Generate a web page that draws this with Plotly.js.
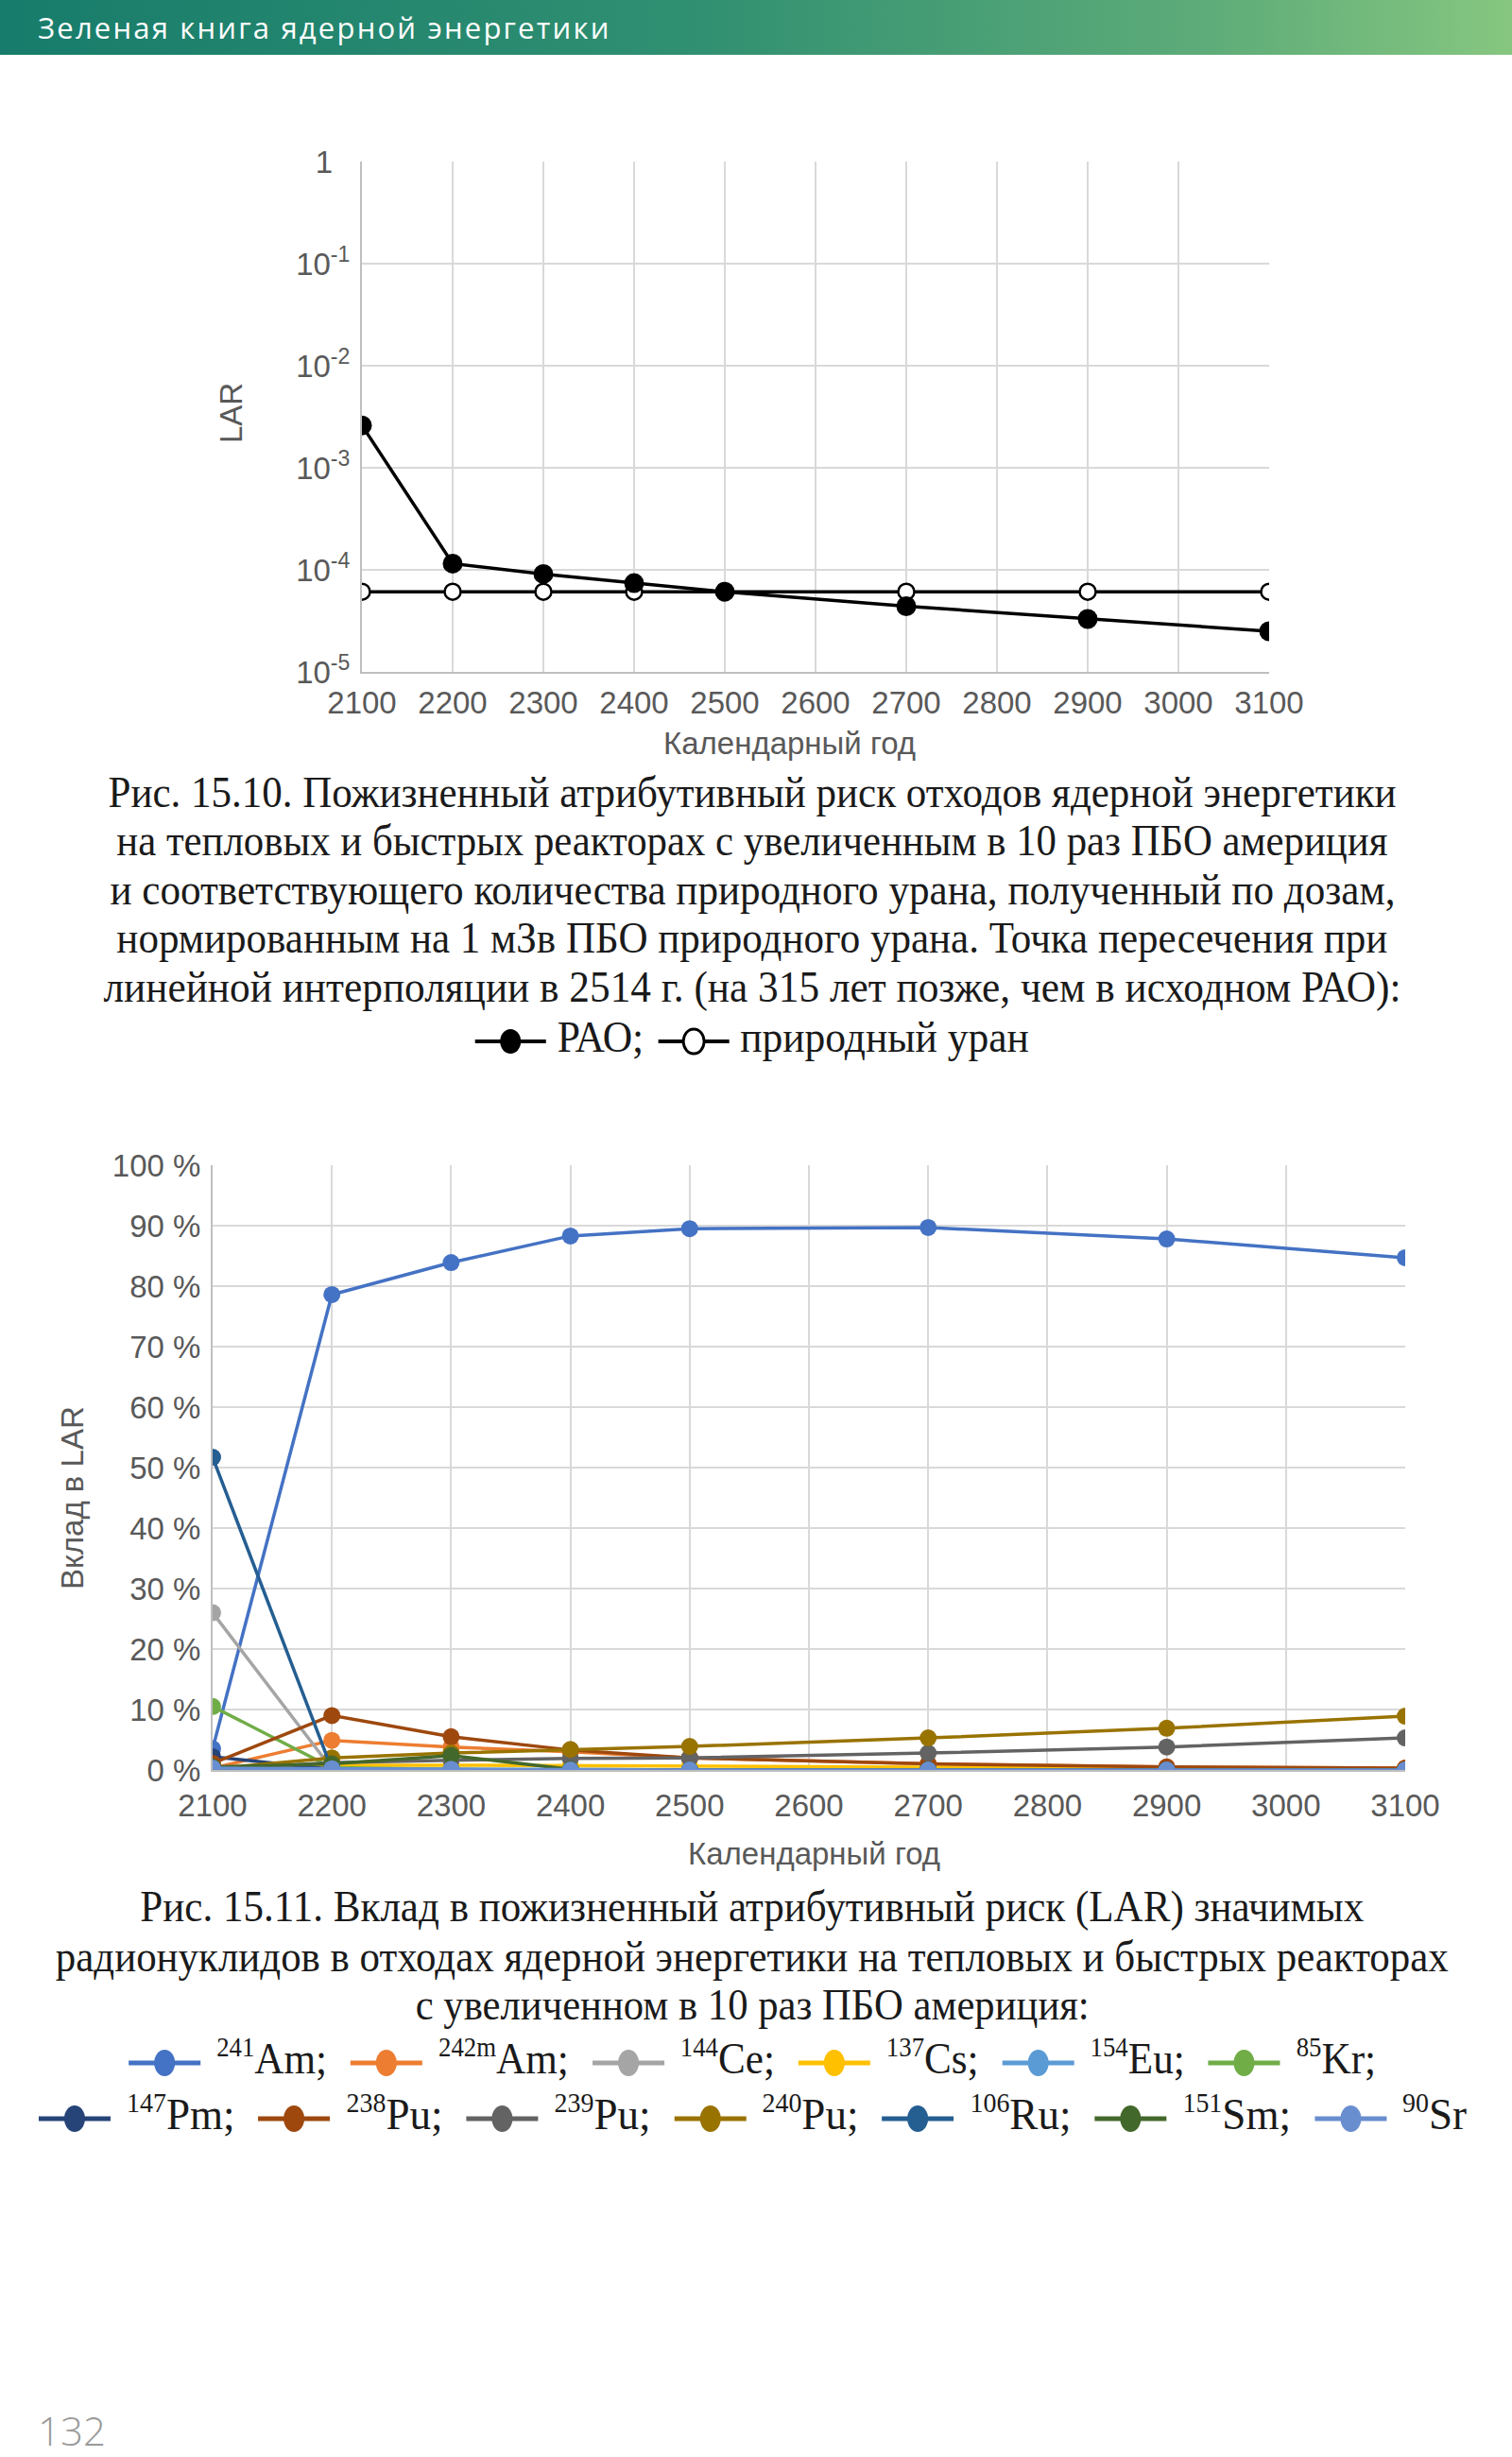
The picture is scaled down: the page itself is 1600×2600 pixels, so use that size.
<!DOCTYPE html>
<html><head><meta charset="utf-8">
<script src="https://cdn.plot.ly/plotly-3.0.1.min.js"></script>
<style>
html,body{margin:0;padding:0;background:#fff;}
#page{position:relative;width:1600px;height:2600px;overflow:hidden;background:#fff;}
#plot{position:absolute;left:0;top:0;width:1600px;height:2600px;z-index:1;}
#header{position:absolute;left:0;top:0;width:1600px;height:58px;z-index:2;
 background:linear-gradient(90deg,#177c6b 0%,#2f8f71 45%,#5eac79 80%,#86c680 100%);}
#header span{position:absolute;left:40px;top:8px;font-family:'Open Sans';font-size:31px;color:#fff;letter-spacing:2.2px;white-space:nowrap;}
.cap{position:absolute;left:0;width:1592px;text-align:center;font-family:'Liberation Serif';color:#1a1a1a;font-size:46px;line-height:52px;height:52px;white-space:nowrap;z-index:3;}
.cap > span{display:inline-block;transform-origin:50% 50%;white-space:nowrap;}
.cap sup{font-size:0.62em;line-height:0;vertical-align:0.62em;}
.cap svg{display:inline-block;vertical-align:middle;overflow:visible;}
.cap .lt{display:inline-block;}
#pnum{position:absolute;left:40px;top:2543px;font-family:'Open Sans';font-weight:300;font-size:42px;color:#9a9a9a;z-index:2;}
</style></head>
<body>
<div id="page">
<div id="plot"></div>
<div id="header"><span>Зеленая книга ядерной энергетики</span></div>
<div id="caps"></div>
<div id="pnum">132</div>
</div>
<script>
// ---- data: figure 15.10 ----
const years = [2100, 2200, 2300, 2400, 2500, 2700, 2900, 3100];
const xTicks = [2100, 2200, 2300, 2400, 2500, 2600, 2700, 2800, 2900, 3000, 3100];
const raoLAR = [2.6e-3, 1.15e-4, 9.1e-5, 7.4e-5, 6.1e-5, 4.4e-5, 3.3e-5, 2.5e-5];
const uranLAR = [6.1e-5, 6.1e-5, 6.1e-5, 6.1e-5, 6.1e-5, 6.1e-5, 6.1e-5, 6.1e-5];
const logTickVals = [1, 1e-1, 1e-2, 1e-3, 1e-4, 1e-5];
const logTickText = ['1\u00a0\u00a0', '10<sup>-1</sup>', '10<sup>-2</sup>', '10<sup>-3</sup>', '10<sup>-4</sup>', '10<sup>-5</sup>'];
const series1Names = ['РАО;', 'природный уран'];

// ---- data: figure 15.11 (% contribution to LAR) ----
const nuclideMass = ['241', '242m', '144', '137', '154', '85', '147', '238', '239', '240', '106', '151', '90'];
const nuclideElem = ['Am;', 'Am;', 'Ce;', 'Cs;', 'Eu;', 'Kr;', 'Pm;', 'Pu;', 'Pu;', 'Pu;', 'Ru;', 'Sm;', 'Sr'];
const nuclideColors = ['#4472C4', '#ED7D31', '#A5A5A5', '#FFC000', '#5B9BD5', '#70AD47',
  '#264478', '#9E480E', '#636363', '#997300', '#255E91', '#43682B', '#698ED0'];
const am241  = [3.5, 78.6, 83.9, 88.3, 89.5, 89.7, 87.8, 84.7];
const am242m = [0.3, 4.9, 3.8, 3.0, 2.0, 1.0, 0.5, 0.3];
const ce144  = [26.0, 0.2, 0, 0, 0, 0, 0, 0];
const cs137  = [0.4, 0.8, 0.8, 0.7, 0.6, 0.4, 0.3, 0.2];
const eu154  = [0.5, 0.2, 0.1, 0, 0, 0, 0, 0];
const kr85   = [10.5, 0.4, 0.1, 0, 0, 0, 0, 0];
const pm147  = [2.2, 0.1, 0, 0, 0, 0, 0, 0];
const pu238  = [1.1, 9.0, 5.5, 3.3, 2.0, 1.0, 0.5, 0.3];
const pu239  = [0.1, 1.2, 1.6, 1.9, 2.0, 2.8, 3.8, 5.3];
const pu240  = [0.2, 2.0, 2.8, 3.4, 3.9, 5.3, 6.9, 8.9];
const ru106  = [51.7, 0.1, 0, 0, 0, 0, 0, 0];
const sm151  = [0.5, 1.0, 2.4, 0.1, 0, 0, 0, 0];
const sr90   = [0.3, 0.2, 0.1, 0, 0, 0, 0, 0];
const nuclideSeries = [am241, am242m, ce144, cs137, eu154, kr85, pm147, pu238, pu239, pu240, ru106, sm151, sr90];

// ---- page geometry helpers ----
const W = 1600, H = 2600;
const px = v => v / W;
const py = v => 1 - v / H;

const tickFont = {family: 'Liberation Sans, Arial, sans-serif', size: 33, color: '#595959'};

const traces = [];
traces.push({
  x: years, y: uranLAR, xaxis: 'x', yaxis: 'y', type: 'scatter', mode: 'lines+markers',
  name: series1Names[1], line: {color: '#000', width: 3.5},
  marker: {symbol: 'circle', size: 17, color: '#fff', line: {color: '#000', width: 2.5}}
});
traces.push({
  x: years, y: raoLAR, xaxis: 'x', yaxis: 'y', type: 'scatter', mode: 'lines+markers',
  name: series1Names[0], line: {color: '#000', width: 3.5},
  marker: {symbol: 'circle', size: 21, color: '#000'}
});
nuclideSeries.forEach((s, i) => {
  traces.push({
    x: years, y: s, xaxis: 'x2', yaxis: 'y2', type: 'scatter', mode: 'lines+markers',
    name: nuclideMass[i] + nuclideElem[i],
    line: {color: nuclideColors[i], width: 3.5},
    marker: {symbol: 'circle', size: 18, color: nuclideColors[i]}
  });
});

const gridC = '#d9d9d9', lineC = '#bfbfbf';
const layout = {
  width: W, height: H, margin: {l: 0, r: 0, t: 0, b: 0},
  paper_bgcolor: 'rgba(0,0,0,0)', plot_bgcolor: '#fff',
  showlegend: false,
  xaxis: {domain: [px(383), px(1343)], anchor: 'y', range: [2100, 3100], tickmode: 'array', tickvals: xTicks,
    tickfont: tickFont, showgrid: true, gridcolor: gridC, gridwidth: 2, showline: true, linecolor: lineC, linewidth: 2,
    zeroline: false, ticks: '', ticklabelstandoff: 2},
  yaxis: {domain: [py(711), py(171)], anchor: 'x', type: 'log', range: [-5, 0], tickmode: 'array',
    tickvals: logTickVals, ticktext: logTickText, tickfont: tickFont, showgrid: true, gridcolor: gridC, gridwidth: 2,
    showline: true, linecolor: lineC, linewidth: 2, zeroline: false, ticks: '', ticklabelstandoff: 4},
  xaxis2: {domain: [px(225), px(1487)], anchor: 'y2', range: [2100, 3100], tickmode: 'array', tickvals: xTicks,
    tickfont: tickFont, showgrid: true, gridcolor: gridC, gridwidth: 2, showline: true, linecolor: lineC, linewidth: 2,
    zeroline: false, ticks: '', ticklabelstandoff: 7},
  yaxis2: {domain: [py(1873), py(1233)], anchor: 'x2', range: [0, 100], dtick: 10, tick0: 0, ticksuffix: ' %',
    tickfont: tickFont, showgrid: true, gridcolor: gridC, gridwidth: 2, showline: true, linecolor: lineC, linewidth: 2,
    zeroline: false, ticks: '', ticklabelstandoff: 4},
  annotations: [
    {text: 'LAR', x: px(245), y: py(437), textangle: -90},
    {text: 'Календарный год', x: px(835), y: py(786)},
    {text: 'Вклад в LAR', x: px(76), y: py(1585), textangle: -90},
    {text: 'Календарный год', x: px(862), y: py(1961)}
  ].map(a => Object.assign({xref: 'paper', yref: 'paper', showarrow: false, xanchor: 'center', yanchor: 'middle', font: tickFont}, a))
};

Plotly.newPlot('plot', traces, layout, {displayModeBar: false, staticPlot: true});

// ---- captions (HTML text, fitted to the reference line widths) ----
const capLines = [
  {t: 'Рис. 15.10. Пожизненный атрибутивный риск отходов ядерной энергетики', cy: 839, w: 1363},
  {t: 'на тепловых и быстрых реакторах с увеличенным в 10 раз ПБО америция', cy: 890, w: 1345},
  {t: 'и соответствующего количества природного урана, полученный по дозам,', cy: 942, w: 1360},
  {t: 'нормированным на 1 мЗв ПБО природного урана. Точка пересечения при', cy: 993, w: 1345},
  {t: 'линейной интерполяции в 2514 г. (на 315 лет позже, чем в исходном РАО):', cy: 1045, w: 1373},
  {t: 'Рис. 15.11. Вклад в пожизненный атрибутивный риск (LAR) значимых', cy: 2018, w: 1295},
  {t: 'радионуклидов в отходах ядерной энергетики на тепловых и быстрых реакторах', cy: 2071, w: 1474},
  {t: 'с увеличенном в 10 раз ПБО америция:', cy: 2122, w: 713}
];
const capsDiv = document.getElementById('caps');
const SVGNS = 'http://www.w3.org/2000/svg';
function mkRow(cy) {
  const d = document.createElement('div');
  d.className = 'cap';
  d.style.top = (cy - 26) + 'px';
  const s = document.createElement('span');
  d.appendChild(s);
  capsDiv.appendChild(d);
  return s;
}
const capSpans = capLines.map(c => { const s = mkRow(c.cy); s.textContent = c.t; return s; });

// legend rows (symbols are part of the typeset caption)
const legendRows = [
  {cy: 1098, w: 586, symW: 75, gap: 12, sep: 15, lw: 4, rx: 11, ry: 13,
   items: [{color: '#000', fill: '#000', html: series1Names[0]}, {color: '#000', fill: '#fff', html: series1Names[1]}]},
  {cy: 2179, w: 1320, symW: 76, gap: 17, sep: 25, lw: 5, rx: 11, ry: 14, items: []},
  {cy: 2238, w: 1511, symW: 76, gap: 17, sep: 25, lw: 5, rx: 11, ry: 14, items: []}
];
nuclideMass.forEach((m, i) => {
  legendRows[i < 6 ? 1 : 2].items.push({color: nuclideColors[i], fill: nuclideColors[i],
    html: '<sup>' + m + '</sup>' + nuclideElem[i]});
});
const legSpans = legendRows.map(r => {
  const row = mkRow(r.cy);
  r.parts = r.items.map(it => {
    const svg = document.createElementNS(SVGNS, 'svg');
    svg.setAttribute('height', 34);
    const ln = document.createElementNS(SVGNS, 'line');
    ln.setAttribute('y1', 17); ln.setAttribute('y2', 17);
    ln.setAttribute('stroke', it.color); ln.setAttribute('stroke-width', r.lw);
    const el = document.createElementNS(SVGNS, 'ellipse');
    el.setAttribute('cy', 17); el.setAttribute('ry', r.ry);
    el.setAttribute('fill', it.fill); el.setAttribute('stroke', it.color);
    el.setAttribute('stroke-width', it.fill === '#fff' ? 3 : 0);
    svg.appendChild(ln); svg.appendChild(el);
    const t = document.createElement('span');
    t.className = 'lt';
    t.innerHTML = it.html;
    row.appendChild(svg); row.appendChild(t);
    return {svg, ln, el, t};
  });
  return row;
});

function fit() {
  capSpans.forEach((s, i) => {
    s.style.transform = 'none';
    const w = s.getBoundingClientRect().width;
    if (w > 0) s.style.transform = 'scaleX(' + (capLines[i].w / w).toFixed(4) + ')';
  });
  legendRows.forEach((r, k) => {
    const row = legSpans[k];
    row.style.transform = 'none';
    let tw = 0;
    r.parts.forEach(p => { tw += p.t.getBoundingClientRect().width; });
    const n = r.parts.length;
    const fixed = n * (r.symW + r.gap) + (n - 1) * r.sep;
    const s = (r.w - fixed) / tw;
    r.parts.forEach((p, j) => {
      const sw = r.symW / s;
      p.svg.setAttribute('width', sw.toFixed(1));
      p.svg.style.marginRight = (r.gap / s).toFixed(1) + 'px';
      p.svg.style.marginLeft = j === 0 ? '0px' : (r.sep / s).toFixed(1) + 'px';
      p.ln.setAttribute('x1', 0); p.ln.setAttribute('x2', sw.toFixed(1));
      p.el.setAttribute('cx', (sw / 2).toFixed(1));
      p.el.setAttribute('rx', (r.rx / s).toFixed(1));
    });
    row.style.transform = 'scaleX(' + s.toFixed(4) + ')';
  });
}
fit();
if (document.fonts && document.fonts.ready) document.fonts.ready.then(fit);
</script>
</body></html>
